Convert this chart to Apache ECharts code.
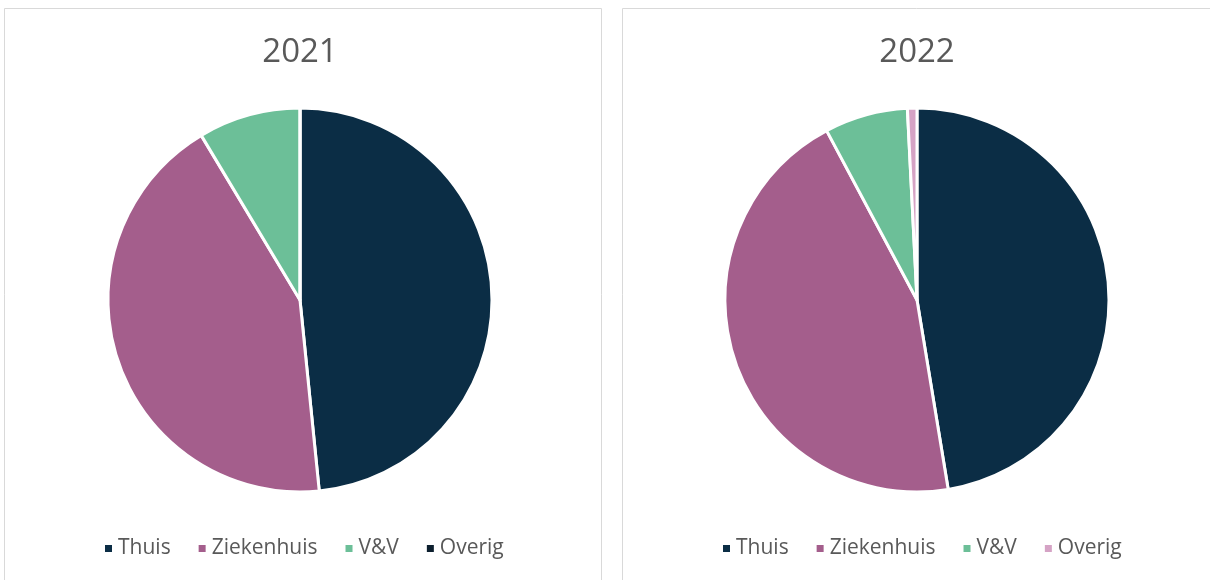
<!DOCTYPE html>
<html>
<head>
<meta charset="utf-8">
<script src="https://cdn.jsdelivr.net/npm/echarts@6/dist/echarts.min.js"></script>
<style>
  html, body { margin: 0; padding: 0; background: #fff; }
  #chart { width: 1210px; height: 580px; }
</style>
</head>
<body>
<div id="chart"></div>
<script>
  // categorieen en waarden (aandeel in %)
  const categories = ['Thuis', 'Ziekenhuis', 'V&V', 'Overig']
  const years = ['2021', '2022']
  const values2021 = [48.4, 43.0, 8.6, 0]
  const values2022 = [47.4, 44.8, 7.0, 0.8]
  const colors2021 = ['#0b2d45', '#a45e8c', '#6cbf98', '#0c1f2e']
  const colors2022 = ['#0b2d45', '#a45e8c', '#6cbf98', '#d5a3c5']

  const chart = echarts.init(document.getElementById('chart'))
  const font = '"Open Sans", "Liberation Sans", sans-serif'

  function pieData(values, colors) {
    return categories.map((name, i) => ({
      name: name,
      value: values[i],
      itemStyle: {color: colors[i]}
    }))
  }

  function legendData(colors) {
    return categories.map((name, i) => ({name: name, itemStyle: {color: colors[i]}}))
  }

  const centers = [300, 917]
  const legendLeft = [98, 716]
  const allColors = [colors2021, colors2022]
  const allValues = [values2021, values2022]

  const option = {
    animation: false,
    graphic: [
      {type: 'rect', shape: {x: 4.5, y: 8.5, width: 597, height: 600}, style: {fill: 'none', stroke: '#d9d9d9', lineWidth: 1}},
      {type: 'rect', shape: {x: 622.5, y: 8.5, width: 620, height: 600}, style: {fill: 'none', stroke: '#d9d9d9', lineWidth: 1}},
      // titels
      {type: 'text', x: centers[0], y: 53, style: {text: years[0], align: 'center', verticalAlign: 'middle', font: '33px ' + font, fill: '#595959'}},
      {type: 'text', x: centers[1], y: 53, style: {text: years[1], align: 'center', verticalAlign: 'middle', font: '33px ' + font, fill: '#595959'}}
    ],
    legend: years.map((y, i) => ({
      data: legendData(allColors[i]),
      left: legendLeft[i],
      top: 533,
      icon: 'rect',
      itemWidth: 9,
      itemHeight: 9,
      itemGap: 26,
      selectedMode: false,
      textStyle: {fontFamily: font, fontSize: 21, color: '#595959'}
    })),
    series: years.map((y, i) => ({
      name: y,
      type: 'pie',
      center: [centers[i], 300],
      radius: 192,
      startAngle: 90,
      clockwise: true,
      label: {show: false},
      labelLine: {show: false},
      emphasis: {disabled: true},
      itemStyle: {borderColor: '#fff', borderWidth: 3},
      data: pieData(allValues[i], allColors[i])
    }))
  }
  chart.setOption(option)
</script>
</body>
</html>
